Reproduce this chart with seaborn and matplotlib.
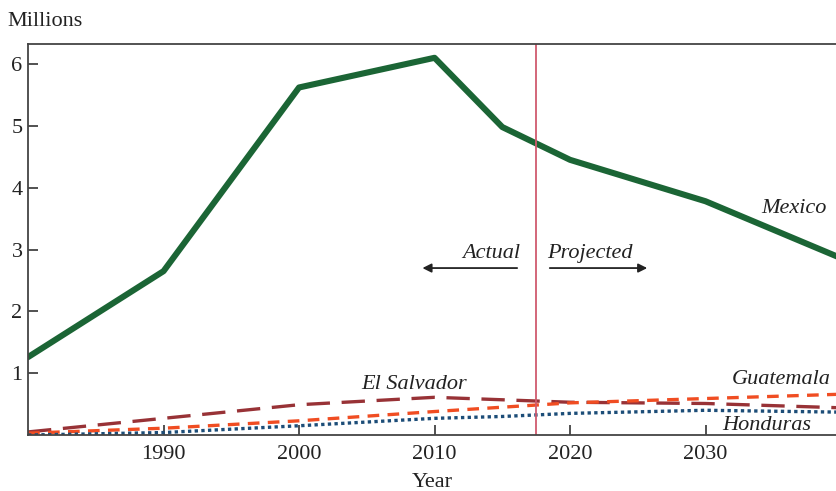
import matplotlib.pyplot as plt
import numpy as np
import pandas as pd
import seaborn as sns

sns.set_style("ticks")
plt.rcParams['font.family'] = ['Liberation Serif', 'DejaVu Serif']

years = [1980, 1990, 2000, 2010, 2015, 2020, 2030, 2040]
mexico = [1.26, 2.65, 5.62, 6.10, 4.98, 4.45, 3.78, 2.86]
el_salvador = [0.05, 0.27, 0.49, 0.61, 0.57, 0.53, 0.51, 0.44]
guatemala = [0.03, 0.11, 0.23, 0.38, 0.45, 0.52, 0.59, 0.66]
honduras = [0.00, 0.04, 0.15, 0.27, 0.30, 0.35, 0.40, 0.37]

countries = ["Mexico", "El Salvador", "Guatemala", "Honduras"]
colors = {"Mexico": "#1b6535", "El Salvador": "#983236",
          "Guatemala": "#f04d22", "Honduras": "#1c4d78"}

df = pd.DataFrame({
    "Year": years * 4,
    "Millions": mexico + el_salvador + guatemala + honduras,
    "Country": np.repeat(countries, len(years)),
})

fig = plt.figure(figsize=(8.37, 4.91), dpi=100)
ax = fig.add_axes([0.0335, 0.114, 0.9665, 0.796])

for c in countries:
    d = df[df.Country == c]
    if c == "Mexico":
        sns.lineplot(data=d, x="Year", y="Millions", ax=ax, color=colors[c], lw=4.4)
    elif c == "El Salvador":
        sns.lineplot(data=d, x="Year", y="Millions", ax=ax, color=colors[c], lw=2.4,
                     linestyle=(0, (7, 3.5)))
    elif c == "Guatemala":
        sns.lineplot(data=d, x="Year", y="Millions", ax=ax, color=colors[c], lw=2.4,
                     linestyle=(0, (3.5, 2.5)))
    else:
        sns.lineplot(data=d, x="Year", y="Millions", ax=ax, color=colors[c], lw=2.4,
                     linestyle=(0, (1, 1)))

ax.axvline(2017.5, color="#d05a6e", lw=1.3)

ax.set_xlim(1980, 2039.7)
ax.set_ylim(0, 6.32)
ax.set_xticks([1990, 2000, 2010, 2020, 2030])
ax.set_yticks([1, 2, 3, 4, 5, 6])
ax.tick_params(direction="in", length=7, width=1.2, labelsize=16, colors="#333333",
               labelcolor="#222222")
ax.tick_params(axis="x", pad=7)
ax.tick_params(axis="y", pad=4)
for s in ["left", "bottom", "top"]:
    ax.spines[s].set_color("#444444")
    ax.spines[s].set_linewidth(1.3)
ax.spines["right"].set_visible(False)
ax.set_xlabel("Year", fontsize=16, color="#222222", labelpad=7)
ax.set_ylabel("")
fig.text(0.009, 0.957, "Millions", fontsize=16, color="#222222", va="center")

lab = dict(fontsize=16, style="italic", color="#222222")
ax.text(2038.9, 3.66, "Mexico", ha="right", va="center", **lab)
ax.text(2008.5, 0.82, "El Salvador", ha="center", va="center", **lab)
ax.text(2039.2, 0.89, "Guatemala", ha="right", va="center", **lab)
ax.text(2037.8, 0.15, "Honduras", ha="right", va="center", **lab)
ax.text(2016.3, 2.93, "Actual", ha="right", va="center", **lab)
ax.text(2018.3, 2.93, "Projected", ha="left", va="center", **lab)
ax.annotate("", xy=(2008.9, 2.70), xytext=(2016.3, 2.70),
            arrowprops=dict(arrowstyle="-|>", color="#222222", lw=1.3, mutation_scale=13))
ax.annotate("", xy=(2025.9, 2.70), xytext=(2018.3, 2.70),
            arrowprops=dict(arrowstyle="-|>", color="#222222", lw=1.3, mutation_scale=13))

fig.savefig("out.png", dpi=100)
